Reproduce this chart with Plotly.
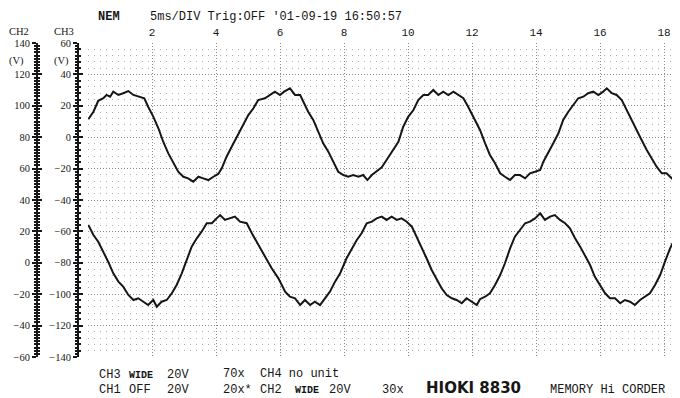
import plotly.graph_objects as go

# ---- data (time in ms, voltage on CH3 scale) ----
upper_t = [0.01, 0.17, 0.32, 0.48, 0.58, 0.69, 0.79, 0.95, 1.10, 1.26, 1.42, 1.57, 1.76, 1.88, 2.04, 2.20,
           2.35, 2.51, 2.67, 2.82, 2.98, 3.13, 3.29, 3.45, 3.60, 3.76, 3.92, 4.07, 4.18, 4.33, 4.49, 4.65,
           4.80, 5.01, 5.17, 5.32, 5.53, 5.69, 5.84, 6.00, 6.13, 6.31, 6.47, 6.63, 6.73, 6.88, 7.04, 7.20,
           7.35, 7.51, 7.67, 7.82, 7.98, 8.13, 8.29, 8.45, 8.60, 8.73, 8.87, 9.02, 9.18, 9.33, 9.54, 9.70,
           9.85, 10.01, 10.17, 10.32, 10.48, 10.63, 10.79, 10.95, 11.10, 11.26, 11.42, 11.57, 11.73, 11.88,
           12.04, 12.25, 12.41, 12.56, 12.72, 12.88, 13.03, 13.19, 13.34, 13.50, 13.66, 13.81, 13.97, 14.13,
           14.23, 14.38, 14.54, 14.70, 14.85, 15.01, 15.17, 15.32, 15.48, 15.63, 15.79, 15.95, 16.10, 16.21,
           16.37, 16.52, 16.68, 16.83, 16.99, 17.15, 17.30, 17.46, 17.62, 17.77, 17.93, 18.08, 18.24, 18.40]
upper_v = [11.4, 16.2, 23.2, 24.8, 26.9, 25.8, 29.0, 26.9, 28.0, 29.4, 26.9, 25.8, 24.8, 19.4, 13.1, 5.7,
           -2.9, -10.3, -16.6, -22.0, -25.2, -26.2, -28.3, -25.2, -26.2, -27.3, -25.2, -23.4, -19.8, -12.4, -6.1, 0.3,
           6.7, 14.1, 18.4, 23.7, 24.8, 26.9, 29.0, 26.9, 29.0, 31.1, 26.9, 26.9, 22.6, 16.2, 11.0, 3.5,
           -3.9, -9.2, -15.6, -22.0, -24.1, -25.2, -24.1, -25.2, -24.1, -27.3, -24.1, -22.0, -19.2, -14.5, -8.2, -2.9,
           6.7, 13.1, 17.3, 23.7, 26.9, 26.9, 30.1, 26.9, 29.0, 26.9, 29.0, 26.9, 24.8, 19.4,
           13.1, 4.6, -3.9, -11.3, -16.6, -23.0, -25.2, -27.3, -24.1, -24.1, -26.2, -23.0, -22.0, -20.9,
           -15.6, -10.3, -3.9, 2.5, 11.0, 16.2, 20.5, 24.8, 25.8, 28.0, 29.0, 26.9, 29.0, 31.1,
           28.0, 26.9, 23.7, 17.3, 11.0, 4.6, -1.8, -8.2, -13.4, -18.8, -23.0, -23.0, -26.2, -23.0]

lower_t = [0.01, 0.17, 0.32, 0.48, 0.63, 0.79, 0.95, 1.10, 1.26, 1.42, 1.57, 1.73, 1.88, 2.04, 2.15, 2.30,
           2.46, 2.62, 2.77, 2.93, 3.08, 3.24, 3.40, 3.55, 3.71, 3.87, 4.02, 4.13, 4.28, 4.44, 4.59, 4.75,
           4.96, 5.12, 5.32, 5.53, 5.74, 5.95, 6.16, 6.31, 6.47, 6.63, 6.78, 6.94, 7.09, 7.25, 7.41, 7.56,
           7.72, 7.88, 8.08, 8.24, 8.40, 8.55, 8.71, 8.87, 9.02, 9.18, 9.33, 9.49, 9.65, 9.80, 9.96, 10.12,
           10.27, 10.43, 10.58, 10.74, 10.90, 11.05, 11.21, 11.37, 11.52, 11.68, 11.83, 11.99, 12.15, 12.25,
           12.41, 12.56, 12.72, 12.88, 13.03, 13.19, 13.34, 13.50, 13.66, 13.81, 13.97, 14.13, 14.28, 14.44,
           14.59, 14.75, 14.91, 15.06, 15.22, 15.38, 15.53, 15.69, 15.84, 16.00, 16.16, 16.31, 16.47, 16.63,
           16.78, 16.94, 17.09, 17.25, 17.41, 17.56, 17.72, 17.88, 18.03, 18.19, 18.40]
lower_v = [-55.9, -62.3, -66.6, -72.9, -79.3, -86.7, -92.0, -95.2, -100.5, -103.7, -102.6, -104.8, -106.9, -103.7, -108.0, -104.8,
           -103.7, -99.4, -94.1, -86.7, -78.2, -69.7, -64.4, -60.2, -54.8, -54.8, -51.7, -49.6, -52.7, -51.7, -50.6, -53.8,
           -54.8, -61.2, -68.7, -76.1, -83.5, -89.9, -98.4, -101.6, -102.6, -106.9, -103.7, -106.9, -104.8, -106.9, -102.6, -98.4,
           -92.0, -86.7, -77.1, -70.8, -65.5, -61.2, -54.8, -53.8, -51.7, -50.6, -52.7, -50.6, -52.7, -51.7, -53.8, -57.0,
           -63.4, -69.7, -77.1, -84.6, -91.0, -96.2, -100.5, -102.6, -103.7, -105.8, -102.6, -104.8, -106.9, -103.2,
           -101.6, -99.4, -94.1, -87.8, -80.3, -70.8, -63.4, -59.1, -54.8, -53.8, -51.7, -48.5, -52.7, -50.6,
           -49.6, -52.7, -54.8, -58.0, -64.4, -69.7, -75.0, -81.4, -88.9, -94.1, -99.4, -102.6, -102.6, -105.8,
           -103.7, -104.8, -106.9, -103.7, -101.6, -99.4, -94.1, -87.8, -79.3, -70.8, -62.3]

x_ticks = [2, 4, 6, 8, 10, 12, 14, 16, 18]
ch3_ticks = [60, 40, 20, 0, -20, -40, -60, -80, -100, -120, -140]
ch2_ticks = [140, 120, 100, 80, 60, 40, 20, 0, -20, -40, -60]

# ---- layout helpers ----
# The page body has an 8px margin, so the figure is 8px smaller and
# reference pixel positions are shifted by 8px.
OFF = 8
W, H = 680 - OFF, 398 - OFF
TOP, BOT = 43 - OFF, 357 - OFF
LEFT = 88 - OFF

def px(x):
    return (x - OFF) / W

def py(y):
    return (BOT - (y - OFF)) / (BOT - TOP)

MONO = "Liberation Mono, DejaVu Sans Mono, monospace"
SERIF = "Liberation Serif, DejaVu Serif, serif"
INK = "#161616"

fig = go.Figure()
fig.add_trace(go.Scatter(x=upper_t, y=upper_v, mode="lines",
                         line=dict(color=INK, width=2), showlegend=False, hoverinfo="skip"))
fig.add_trace(go.Scatter(x=lower_t, y=lower_v, mode="lines",
                         line=dict(color=INK, width=2), showlegend=False, hoverinfo="skip"))
# empty traces so the extra axes render
for ax in ["y2", "y3", "y4"]:
    fig.add_trace(go.Scatter(x=[], y=[], yaxis=ax, showlegend=False, hoverinfo="skip"))

axis_common = dict(showline=True, linecolor=INK, linewidth=2, zeroline=False,
                   tickcolor=INK, tickwidth=1.5, ticklen=4,
                   tickfont=dict(family=SERIF, size=10.5, color=INK))

fig.update_layout(
    width=W, height=H,
    margin=dict(l=0, r=0, t=TOP, b=H - BOT, pad=0),
    paper_bgcolor="white", plot_bgcolor="white",
    xaxis=dict(domain=[LEFT / W, 1], range=[0, (W - LEFT) / 32], side="top",
               tickvals=x_ticks, ticks="", ticklabelstandoff=4,
               tickfont=dict(family=MONO, size=11, color=INK),
               showline=False, zeroline=False, automargin=False,
               showgrid=True, dtick=1, tick0=0, gridcolor="#8a8a8a", griddash="1px,2px", gridwidth=1),
    yaxis=dict(range=[-140, 60], anchor="free", position=px(78), side="left",
               tickvals=ch3_ticks, ticks="outside", automargin=False,
               showgrid=True, gridcolor="#8a8a8a", griddash="1px,2px", gridwidth=1,
               minor=dict(dtick=2, ticks="outside", ticklen=2, tickcolor=INK, showgrid=False),
               **axis_common),
    yaxis3=dict(range=[-140, 60], anchor="free", position=px(78), overlaying="y", side="left",
                tickvals=ch3_ticks, ticks="inside", showticklabels=False, showgrid=False,
                automargin=False,
                minor=dict(dtick=4, ticks="inside", ticklen=2, tickcolor=INK,
                           showgrid=True, gridcolor="#b0b0b0", griddash="1px,5px", gridwidth=1),
                **axis_common),
    yaxis2=dict(range=[-60, 140], anchor="free", position=px(37), overlaying="y", side="left",
                tickvals=ch2_ticks, ticks="outside", showgrid=False, automargin=False,
                minor=dict(dtick=2, ticks="outside", ticklen=2, tickcolor=INK, showgrid=False),
                **axis_common),
    yaxis4=dict(range=[-60, 140], anchor="free", position=px(37), overlaying="y", side="left",
                tickvals=ch2_ticks, ticks="inside", showticklabels=False, showgrid=False,
                automargin=False,
                minor=dict(dtick=2, ticks="inside", ticklen=2, tickcolor=INK, showgrid=False),
                **axis_common),
)

def note(text, x, y, family=MONO, size=12, bold=False):
    t = f"<b>{text}</b>" if bold else text
    fig.add_annotation(text=t, x=px(x), y=py(y), xref="paper", yref="paper",
                       xanchor="left", yanchor="middle", showarrow=False,
                       font=dict(family=family, size=size, color=INK))

note("NEM", 96, 17, bold=True)
note("5ms/DIV Trig:OFF '01-09-19 16:50:57", 148, 17)
note("CH2", 7, 31, family=SERIF, size=10.5)
note("CH3", 52, 31, family=SERIF, size=10.5)
note("(V)", 7, 61, family=SERIF, size=10.5)
note("(V)", 52, 61, family=SERIF, size=10.5)

note("CH3", 97, 375)
note("WIDE", 127, 375, size=10, bold=True)
note("20V", 165, 375)
note("CH1", 97, 390)
note("OFF", 127, 390)
note("20V", 165, 390)
note("70x", 221, 374)
note("CH4 no unit", 258, 374)
note("20x*", 221, 390)
note("CH2", 258, 390)
note("WIDE", 293, 390, size=10, bold=True)
note("20V", 327, 390)
note("30x", 380, 390)
note("HIOKI 8830", 424, 388, family="DejaVu Sans, Liberation Sans, sans-serif", size=15, bold=True)
note("MEMORY Hi CORDER", 548, 390)

fig.write_html("out.html")
